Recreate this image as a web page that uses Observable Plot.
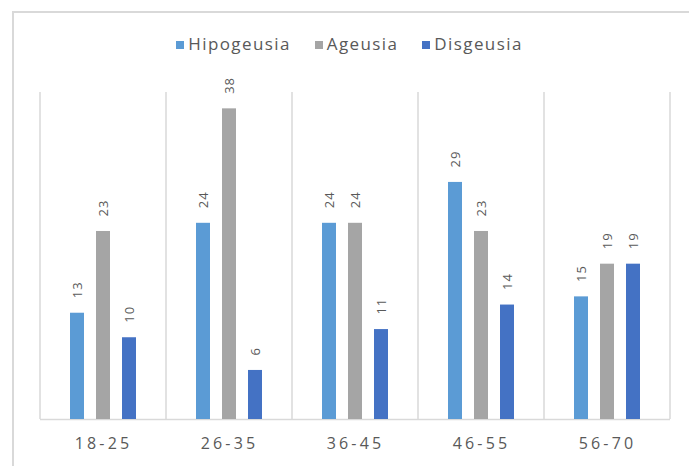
<!DOCTYPE html>
<html>
<head>
<meta charset="utf-8">
<script src="https://cdn.jsdelivr.net/npm/d3@7"></script>
<script src="https://cdn.jsdelivr.net/npm/@observablehq/plot@0.6"></script>
<style>
  html, body { margin: 0; padding: 0; background: #fff; }
  #wrap { position: relative; width: 689px; height: 466px; overflow: hidden; }
  #frame { position: absolute; left: 12px; top: 11px; width: 800px; height: 600px;
           border-left: 2px solid #d9d9d9; border-top: 2px solid #d9d9d9; }
  #legend { position: absolute; top: 32px; left: 0; width: 689px; text-align: center; padding-left: 10px; box-sizing: border-box;
            font-family: "Open Sans", sans-serif; font-size: 17px; letter-spacing: 1.4px; color: #595959; white-space: nowrap; }
  #legend span.item { display: inline-block; margin: 0 12px; }
  #legend span.sw { display: inline-block; width: 8px; height: 8px; margin-right: 4px; vertical-align: 1px; }
  #chart { position: absolute; left: 0; top: 0; }
</style>
</head>
<body>
<div id="wrap">
  <div id="frame"></div>
  <div id="chart"></div>
  <div id="legend"></div>
</div>
<script>
const ageGroups = ["18-25", "26-35", "36-45", "46-55", "56-70"];
const seriesNames = ["Hipogeusia", "Ageusia", "Disgeusia"];
const seriesColors = ["#5B9BD5", "#A5A5A5", "#4472C4"];
const hipogeusia = [13, 24, 24, 29, 15];
const ageusia = [23, 38, 24, 23, 19];
const disgeusia = [10, 6, 11, 14, 19];

const seriesValues = [hipogeusia, ageusia, disgeusia];
const data = [];
ageGroups.forEach((g, i) => {
  seriesNames.forEach((s, j) => data.push({age: g, series: s, value: seriesValues[j][i]}));
});

const chart = Plot.plot({
  width: 689,
  height: 466,
  marginLeft: 38,
  marginRight: 17,
  marginTop: 92,
  marginBottom: 47,
  style: {fontFamily: "'Open Sans', sans-serif", color: "#595959", background: "transparent"},
  fx: {domain: ageGroups, padding: 0, axis: "bottom", tickSize: 0, tickPadding: 18, label: null},
  x: {domain: seriesNames, paddingInner: 0.47, paddingOuter: 1.13, axis: null},
  y: {domain: [0, 40], axis: null},
  color: {domain: seriesNames, range: seriesColors},
  marks: [
    Plot.ruleY([0], {stroke: "#d9d9d9", strokeWidth: 1.5}),
    Plot.barY(data, {fx: "age", x: "series", y: "value", fill: "series"}),
    Plot.text(data, {fx: "age", x: "series", y: "value", text: d => String(d.value),
      rotate: -90, textAnchor: "start", dy: -15, fill: "#595959", fontSize: 13})
  ]
});

const svg = d3.select(chart);
const fx = chart.scale("fx");
const y = chart.scale("y");
const edges = ageGroups.map(g => fx.apply(g)).concat([fx.apply(ageGroups[ageGroups.length - 1]) + fx.bandwidth]);
svg.insert("g", ":first-child")
  .selectAll("line").data(edges).join("line")
  .attr("x1", d => d).attr("x2", d => d)
  .attr("y1", y.apply(40)).attr("y2", y.apply(0))
  .attr("stroke", "#d9d9d9").attr("stroke-width", 1.5);
svg.selectAll("text").style("letter-spacing", "1px");
svg.selectAll('g[aria-label^="fx-axis"] text').style("font-size", "16px").style("letter-spacing", "3.2px").attr("fill", "#595959");

document.getElementById("chart").appendChild(chart);

const legend = d3.select("#legend");
seriesNames.forEach((s, j) => {
  const item = legend.append("span").attr("class", "item");
  item.append("span").attr("class", "sw").style("background", seriesColors[j]);
  item.append("span").text(s);
});
</script>
</body>
</html>
